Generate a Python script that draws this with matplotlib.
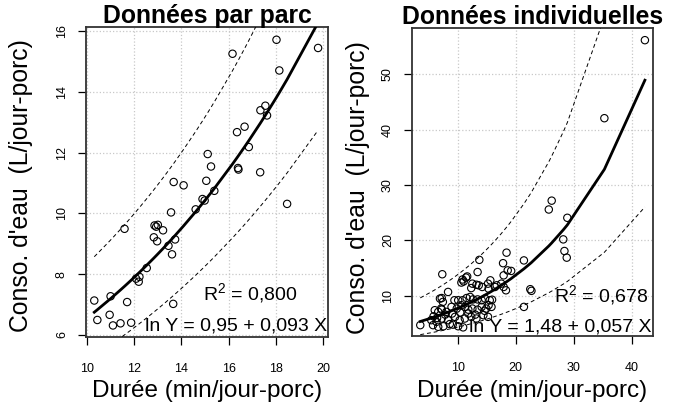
import numpy as np
import matplotlib
matplotlib.use("Agg")
import matplotlib.pyplot as plt

plt.rcParams['font.family'] = ['Liberation Sans', 'DejaVu Sans']
plt.rcParams['mathtext.fontset'] = 'custom'
plt.rcParams['mathtext.rm'] = 'Liberation Sans'

# données par parc (durée, conso)
parc_x = [16.16, 18.02, 19.78, 18.14, 17.34, 17.55, 17.62, 16.35, 16.67, 16.85,
          15.11, 15.25, 16.39, 16.41, 17.33, 13.67, 14.09, 15.05, 15.39, 14.89,
          14.98, 14.60, 18.47, 13.56, 11.59, 12.86, 13.00, 12.93, 13.22, 12.83,
          12.97, 13.73, 13.45, 13.60, 12.53, 12.22, 12.19, 12.08, 11.00, 10.31,
          11.70, 13.65, 10.44, 10.96, 11.10, 11.42, 11.87]
parc_y = [15.25, 15.71, 15.44, 14.70, 13.39, 13.54, 13.22, 12.67, 12.85, 12.18,
          11.95, 11.54, 11.49, 11.44, 11.35, 11.03, 10.92, 11.07, 10.74, 10.47,
          10.42, 10.13, 10.31, 10.03, 9.49, 9.60, 9.62, 9.56, 9.44, 9.21,
          9.08, 9.14, 8.93, 8.65, 8.20, 7.91, 7.75, 7.85, 7.27, 7.13,
          7.08, 7.02, 6.49, 6.66, 6.31, 6.38, 6.40]
parc_coef = (0.95, 0.093)
parc_r2 = "0,800"
parc_eq = "ln Y = 0,95 + 0,093 X"

# données individuelles
indiv_x = [3.5, 5.4, 5.7, 6.0, 6.3, 6.6, 6.6, 6.9, 7.1, 7.2,
           7.2, 7.2, 7.3, 7.4, 7.5, 8.0, 8.3, 8.3, 8.6, 8.9,
           9.4, 9.5, 9.8, 10.05, 10.05, 10.3, 10.6, 10.6, 10.8, 10.8,
           10.9, 11.0, 11.2, 11.2, 11.4, 11.5, 11.6, 11.8, 12.1, 12.3,
           12.3, 12.5, 12.5, 12.6, 13.2, 13.2, 13.4, 13.4, 13.4, 13.7,
           13.6, 14.1, 14.1, 14.2, 14.4, 14.7, 14.9, 15.2, 15.2, 15.3,
           15.3, 15.5, 15.6, 15.8, 15.9, 16.4, 16.7, 17.5, 17.8, 17.9,
           17.9, 18.3, 18.4, 18.6, 19.2, 21.4, 21.4, 22.5, 22.7, 25.7,
           26.2, 28.2, 28.4, 28.8, 28.9, 35.3, 42.3, 5.8, 6.4, 7.8,
           9.0, 10.4, 11.8, 13.0, 14.6, 9.1]
indiv_y = [4.7, 5.6, 4.7, 7.4, 5.3, 7.1, 4.4, 9.5, 7.7, 9.6,
           7.5, 5.9, 13.9, 8.9, 4.5, 7.1, 10.7, 5.6, 4.9, 8.0,
           9.2, 6.2, 7.7, 9.2, 4.5, 5.6, 12.4, 8.3, 12.95, 9.2,
           4.3, 12.6, 8.0, 5.9, 13.3, 9.6, 13.5, 7.5, 9.8, 11.4,
           6.2, 12.2, 7.7, 9.35, 12.0, 5.9, 14.3, 9.35, 7.5, 16.5,
           11.9, 9.2, 8.0, 11.6, 6.5, 9.5, 7.7, 12.2, 6.2, 11.3,
           8.3, 9.2, 12.8, 8.0, 9.3, 11.6, 11.9, 12.2, 15.9, 11.6,
           13.7, 11.0, 17.8, 14.6, 14.5, 16.4, 8.0, 11.2, 10.9, 25.6,
           27.2, 20.2, 18.1, 16.9, 24.1, 42.1, 56.2, 6.3, 6.0, 6.6,
           6.8, 7.0, 6.8, 6.6, 7.3, 4.8]
indiv_coef = (1.48, 0.057)
indiv_r2 = "0,678"
indiv_eq = "ln Y = 1,48 + 0,057 X"


def courbes(x, y, a, b, t=2.0):
    # ajustement log-linéaire + intervalle de prédiction
    x = np.asarray(x, float)
    y = np.asarray(y, float)
    xs = np.sort(x)
    res = np.log(y) - (a + b * x)
    n = len(x)
    s = np.sqrt(np.sum(res ** 2) / (n - 2))
    sxx = np.sum((x - x.mean()) ** 2)
    se = s * np.sqrt(1 + 1 / n + (xs - x.mean()) ** 2 / sxx)
    fit = a + b * xs
    return xs, np.exp(fit), np.exp(fit - t * se), np.exp(fit + t * se)


def panneau(ax, x, y, coef, r2, eq, titre, xlim, ylim, xticks, yticks, pos_r2, pos_eq):
    xs, fit, bas, haut = courbes(x, y, *coef)
    ax.scatter(x, y, s=28, facecolors='none', edgecolors='black', linewidths=0.8, zorder=3)
    ax.plot(xs, fit, color='black', lw=2.0, zorder=4)
    ax.plot(xs, bas, color='black', lw=0.7, ls=(0, (4, 3)), zorder=4)
    ax.plot(xs, haut, color='black', lw=0.7, ls=(0, (4, 3)), zorder=4)
    ax.set_xlim(*xlim)
    ax.set_ylim(*ylim)
    ax.set_xticks(xticks)
    ax.set_yticks(yticks)
    ax.grid(True, color='#c8c8c8', ls=':', lw=0.9, zorder=0)
    ax.tick_params(direction='out', length=6, width=0.9, labelsize=9)
    ax.tick_params(axis='x', pad=12.5)
    ax.tick_params(axis='y', pad=7)
    for lab in ax.get_yticklabels():
        lab.set_rotation(90)
        lab.set_va('center')
    for sp in ax.spines.values():
        sp.set_linewidth(1.3)
        sp.set_color('#333333')
    ax.text(0.5, 1.012, titre, transform=ax.transAxes, ha='center', va='baseline',
            fontsize=17.8, fontweight='bold')
    ax.text(pos_r2[0], pos_r2[1], "R$^2$ = " + r2, transform=ax.transAxes,
            ha='right', va='baseline', fontsize=14)
    ax.text(pos_eq[0], pos_eq[1], eq, transform=ax.transAxes,
            ha='right', va='baseline', fontsize=14)


fig = plt.figure(figsize=(6.78, 4.07), dpi=100)
ax1 = fig.add_axes([86 / 678, 70 / 407, 242 / 678, 310 / 407])
ax2 = fig.add_axes([412 / 678, 71 / 407, 241 / 678, 308 / 407])

panneau(ax1, parc_x, parc_y, parc_coef, parc_r2, parc_eq, "Données par parc",
        (9.96, 20.2), (5.93, 16.13), range(10, 21, 2), range(6, 17, 2),
        (0.876, 0.117), (0.996, 0.02))
panneau(ax2, indiv_x, indiv_y, indiv_coef, indiv_r2, indiv_eq, "Données individuelles",
        (2.07, 43.7), (2.74, 58.4), [10, 20, 30, 40], [10, 20, 30, 40, 50],
        (0.98, 0.107), (0.995, 0.014))

# titres des axes
for cx, cy in [(21, 186), (358, 188)]:
    fig.text(cx / 678, 1 - cy / 407, "Conso. d'eau  (L/jour-porc)", rotation=90,
             ha='center', va='center', fontsize=17.8)
for cx in [207, 532]:
    fig.text(cx / 678, 1 - 391 / 407, "Durée (min/jour-porc)",
             ha='center', va='center', fontsize=17.5)

fig.savefig("out.png", dpi=100)
